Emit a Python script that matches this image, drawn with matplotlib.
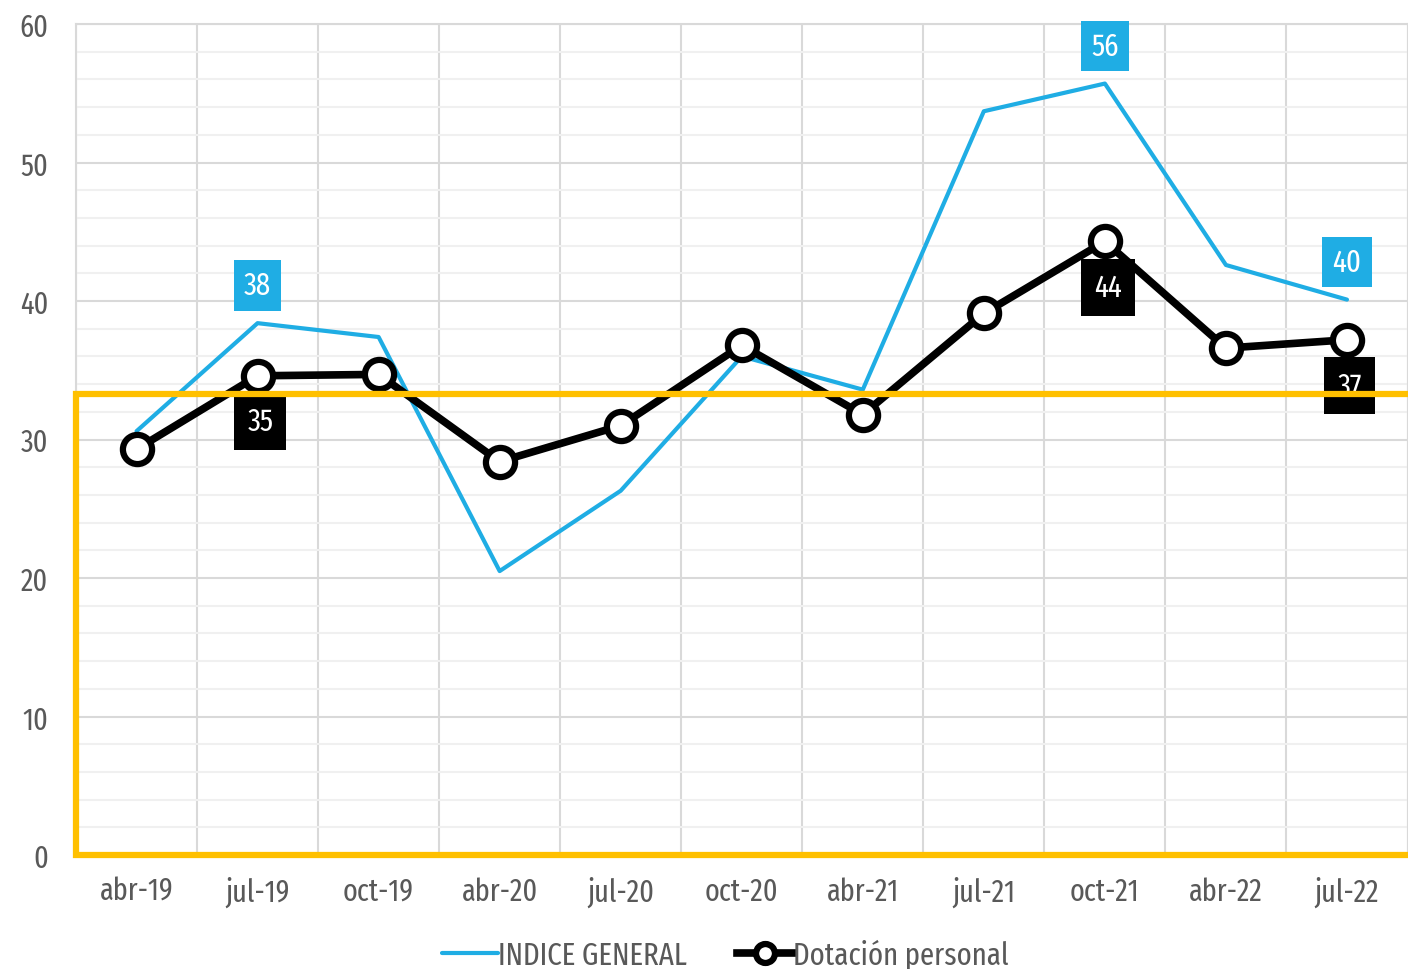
import matplotlib
matplotlib.use("Agg")
import matplotlib.pyplot as plt
from matplotlib.ticker import MultipleLocator

periods = ["abr-19", "jul-19", "oct-19", "abr-20", "jul-20", "oct-20",
           "abr-21", "jul-21", "oct-21", "abr-22", "jul-22"]
indice_general = [30.6, 38.4, 37.4, 20.5, 26.3, 36.0, 33.6, 53.7, 55.7, 42.6, 40.1]
dotacion = [29.3, 34.6, 34.7, 28.4, 31.0, 36.8, 31.8, 39.1, 44.3, 36.6, 37.2]
umbral = 33.3

# which points carry a value box
blue_labels = [1, 8, 10]
black_labels = [1, 8, 10]

BLUE = "#1FADE4"
YELLOW = "#FFC000"
TEXT = "#595959"

plt.rcParams["font.family"] = ["Fira Sans Extra Condensed", "DejaVu Sans"]

fig = plt.figure(figsize=(14.08, 9.70), dpi=100)
ax = fig.add_axes([76 / 1408, 114 / 970, 1331.5 / 1408, 831 / 970])

x = list(range(len(periods)))

ax.plot(x, indice_general, color=BLUE, lw=3.0, solid_capstyle="round",
        label="INDICE GENERAL", zorder=3)
ax.plot(x, dotacion, color="black", lw=5.5, marker="o", ms=21, mfc="white",
        mec="black", mew=4.5, label="Dotación personal", zorder=4)

for i in blue_labels:
    ax.annotate(f"{indice_general[i]:.0f}", (i, indice_general[i]),
                xytext=(0, 27), textcoords="offset points", ha="center",
                va="center", color="white", fontsize=22.5, zorder=5,
                bbox=dict(boxstyle="square,pad=0.32", fc=BLUE, ec="none"))
for i in black_labels:
    ax.annotate(f"{dotacion[i]:.0f}", (i, dotacion[i]),
                xytext=(2, -33), textcoords="offset points", ha="center",
                va="center", color="white", fontsize=22.5, zorder=5,
                bbox=dict(boxstyle="square,pad=0.42", fc="black", ec="none"))

# yellow threshold frame
ax.plot([10.7, -0.5, -0.5, 10.7], [umbral, umbral, 0, 0], color=YELLOW,
        lw=4.5, solid_joinstyle="miter", clip_on=False, zorder=6)

ax.set_xlim(-0.5, 10.5)
ax.set_ylim(0, 60)
ax.set_xticks(x)
ax.set_xticklabels(periods)
ax.yaxis.set_major_locator(MultipleLocator(10))
ax.yaxis.set_minor_locator(MultipleLocator(2))
ax.xaxis.set_minor_locator(MultipleLocator(1, offset=0.5))
ax.tick_params(which="both", length=0, labelsize=22, colors=TEXT)
ax.tick_params(axis="y", pad=20)
ax.tick_params(axis="x", pad=15)
ax.grid(which="major", axis="y", color="#D9D9D9", lw=1.5)
ax.grid(which="minor", axis="y", color="#F0F0F0", lw=1.5)
ax.grid(which="minor", axis="x", color="#D9D9D9", lw=1.5)
for side in ["top", "left", "right"]:
    ax.spines[side].set_color("#D9D9D9")
    ax.spines[side].set_linewidth(1.5)
ax.spines["bottom"].set_visible(False)
ax.set_axisbelow(True)

fig.legend(loc="lower center", bbox_to_anchor=(0.515, -0.03), ncol=2,
           frameon=False, fontsize=22.5, labelcolor=TEXT, handlelength=1.8,
           handletextpad=0.0, columnspacing=1.6, markerscale=0.65)

fig.savefig("out.png", dpi=100)
